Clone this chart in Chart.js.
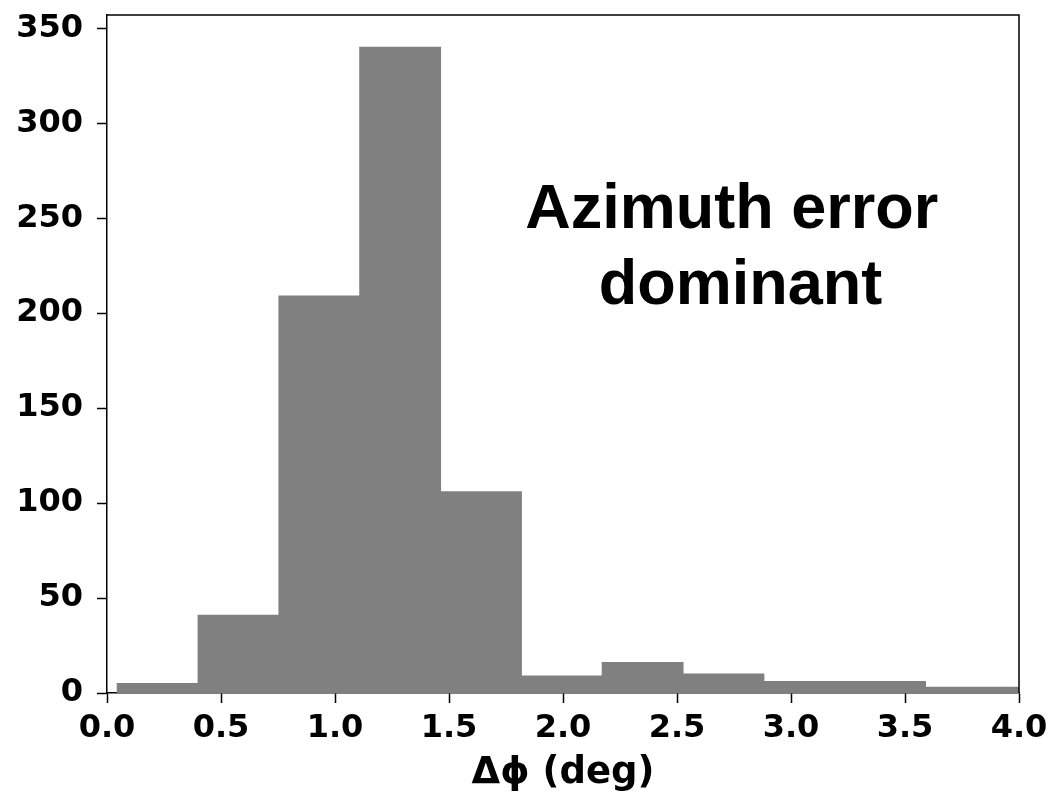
<!DOCTYPE html>
<html>
<head>
<meta charset="utf-8">
<script src="https://cdn.jsdelivr.net/npm/chart.js@4/dist/chart.umd.min.js"></script>
<style>
  html, body { margin: 0; padding: 0; background: #ffffff; }
  #wrap { width: 1055px; height: 793px; position: relative; }
</style>
</head>
<body>
<div id="wrap"><canvas id="c" width="1055" height="793"></canvas></div>
<script>
// ---- data ----
const binEdges = [0.0450, 0.3995, 0.7540, 1.1085, 1.4630, 1.8175, 2.1720, 2.5265, 2.8810, 3.2355, 3.5900, 3.9445, 4.2990];
const counts   = [5, 41, 209, 340, 106, 9, 16, 10, 6, 6, 3, 3];
const xTicks   = [0.0, 0.5, 1.0, 1.5, 2.0, 2.5, 3.0, 3.5, 4.0];
const yTicks   = [0, 50, 100, 150, 200, 250, 300, 350];
const xTitle   = 'Δϕ (deg)';
const noteLines = ['Azimuth error', ' dominant'];
const notePos  = { x: 2.74, y: 245 };

const barData = counts.map((c, i) => ({ x: (binEdges[i] + binEdges[i + 1]) / 2, y: c }));

const tickFont = { family: "'DejaVu Sans', sans-serif", size: 32, weight: 'bold' };

const framePlugin = {
  id: 'frame',
  afterDraw(chart) {
    const { ctx, chartArea: a, scales } = chart;
    ctx.save();
    ctx.strokeStyle = '#000';
    ctx.lineWidth = 1.5;
    ctx.beginPath();
    ctx.moveTo(a.left, a.top);
    ctx.lineTo(a.right, a.top);
    ctx.lineTo(a.right, a.bottom);
    ctx.stroke();
    // annotation text
    const px = scales.x.getPixelForValue(notePos.x);
    const py = scales.y.getPixelForValue(notePos.y);
    ctx.fillStyle = '#000';
    ctx.font = "bold 63px 'Liberation Sans', Arial, sans-serif";
    ctx.textAlign = 'center';
    ctx.textBaseline = 'alphabetic';
    noteLines.forEach((t, i) => ctx.fillText(t, px, py + i * 76));
    ctx.restore();
  }
};

new Chart(document.getElementById('c'), {
  type: 'bar',
  data: {
    datasets: [{
      data: barData,
      backgroundColor: '#808080',
      borderColor: '#808080',
      borderWidth: 0,
      barPercentage: 1.0,
      categoryPercentage: 1.0,
      inflateAmount: 0.5,
      clip: 0
    }]
  },
  options: {
    responsive: false,
    animation: false,
    events: [],
    layout: { padding: { top: 15, right: 36, left: 0, bottom: 0 } },
    plugins: { legend: { display: false }, tooltip: { enabled: false } },
    scales: {
      x: {
        type: 'linear',
        min: 0, max: 4,
        offset: false,
        afterBuildTicks: (s) => { s.ticks = xTicks.map(v => ({ value: v })); },
        afterFit: (s) => { s.height = 100; s.paddingLeft = 0; s.paddingRight = 0; },
        ticks: {
          autoSkip: false,
          maxRotation: 0,
          color: '#000',
          font: tickFont,
          padding: 6,
          callback: (v) => Number(v).toFixed(1)
        },
        grid: { offset: false, drawOnChartArea: false, drawTicks: true, tickLength: 10, tickColor: '#000', tickWidth: 1.5 },
        border: { display: true, color: '#000', width: 1.5 },
        title: {
          display: true, text: xTitle, color: '#000',
          font: { family: "'DejaVu Sans', sans-serif", size: 37, weight: 'bold', lineHeight: 1.0 },
          padding: { top: 0, bottom: 1 }
        }
      },
      y: {
        type: 'linear',
        min: 0, max: 357,
        afterBuildTicks: (s) => { s.ticks = yTicks.map(v => ({ value: v })); },
        afterFit: (s) => { s.width = 107; s.paddingTop = 0; s.paddingBottom = 0; },
        ticks: { color: '#000', font: tickFont, padding: 14 },
        grid: { drawOnChartArea: false, drawTicks: true, tickLength: 10, tickColor: '#000', tickWidth: 1.5 },
        border: { display: true, color: '#000', width: 1.5 }
      }
    }
  },
  plugins: [framePlugin]
});
</script>
</body>
</html>
